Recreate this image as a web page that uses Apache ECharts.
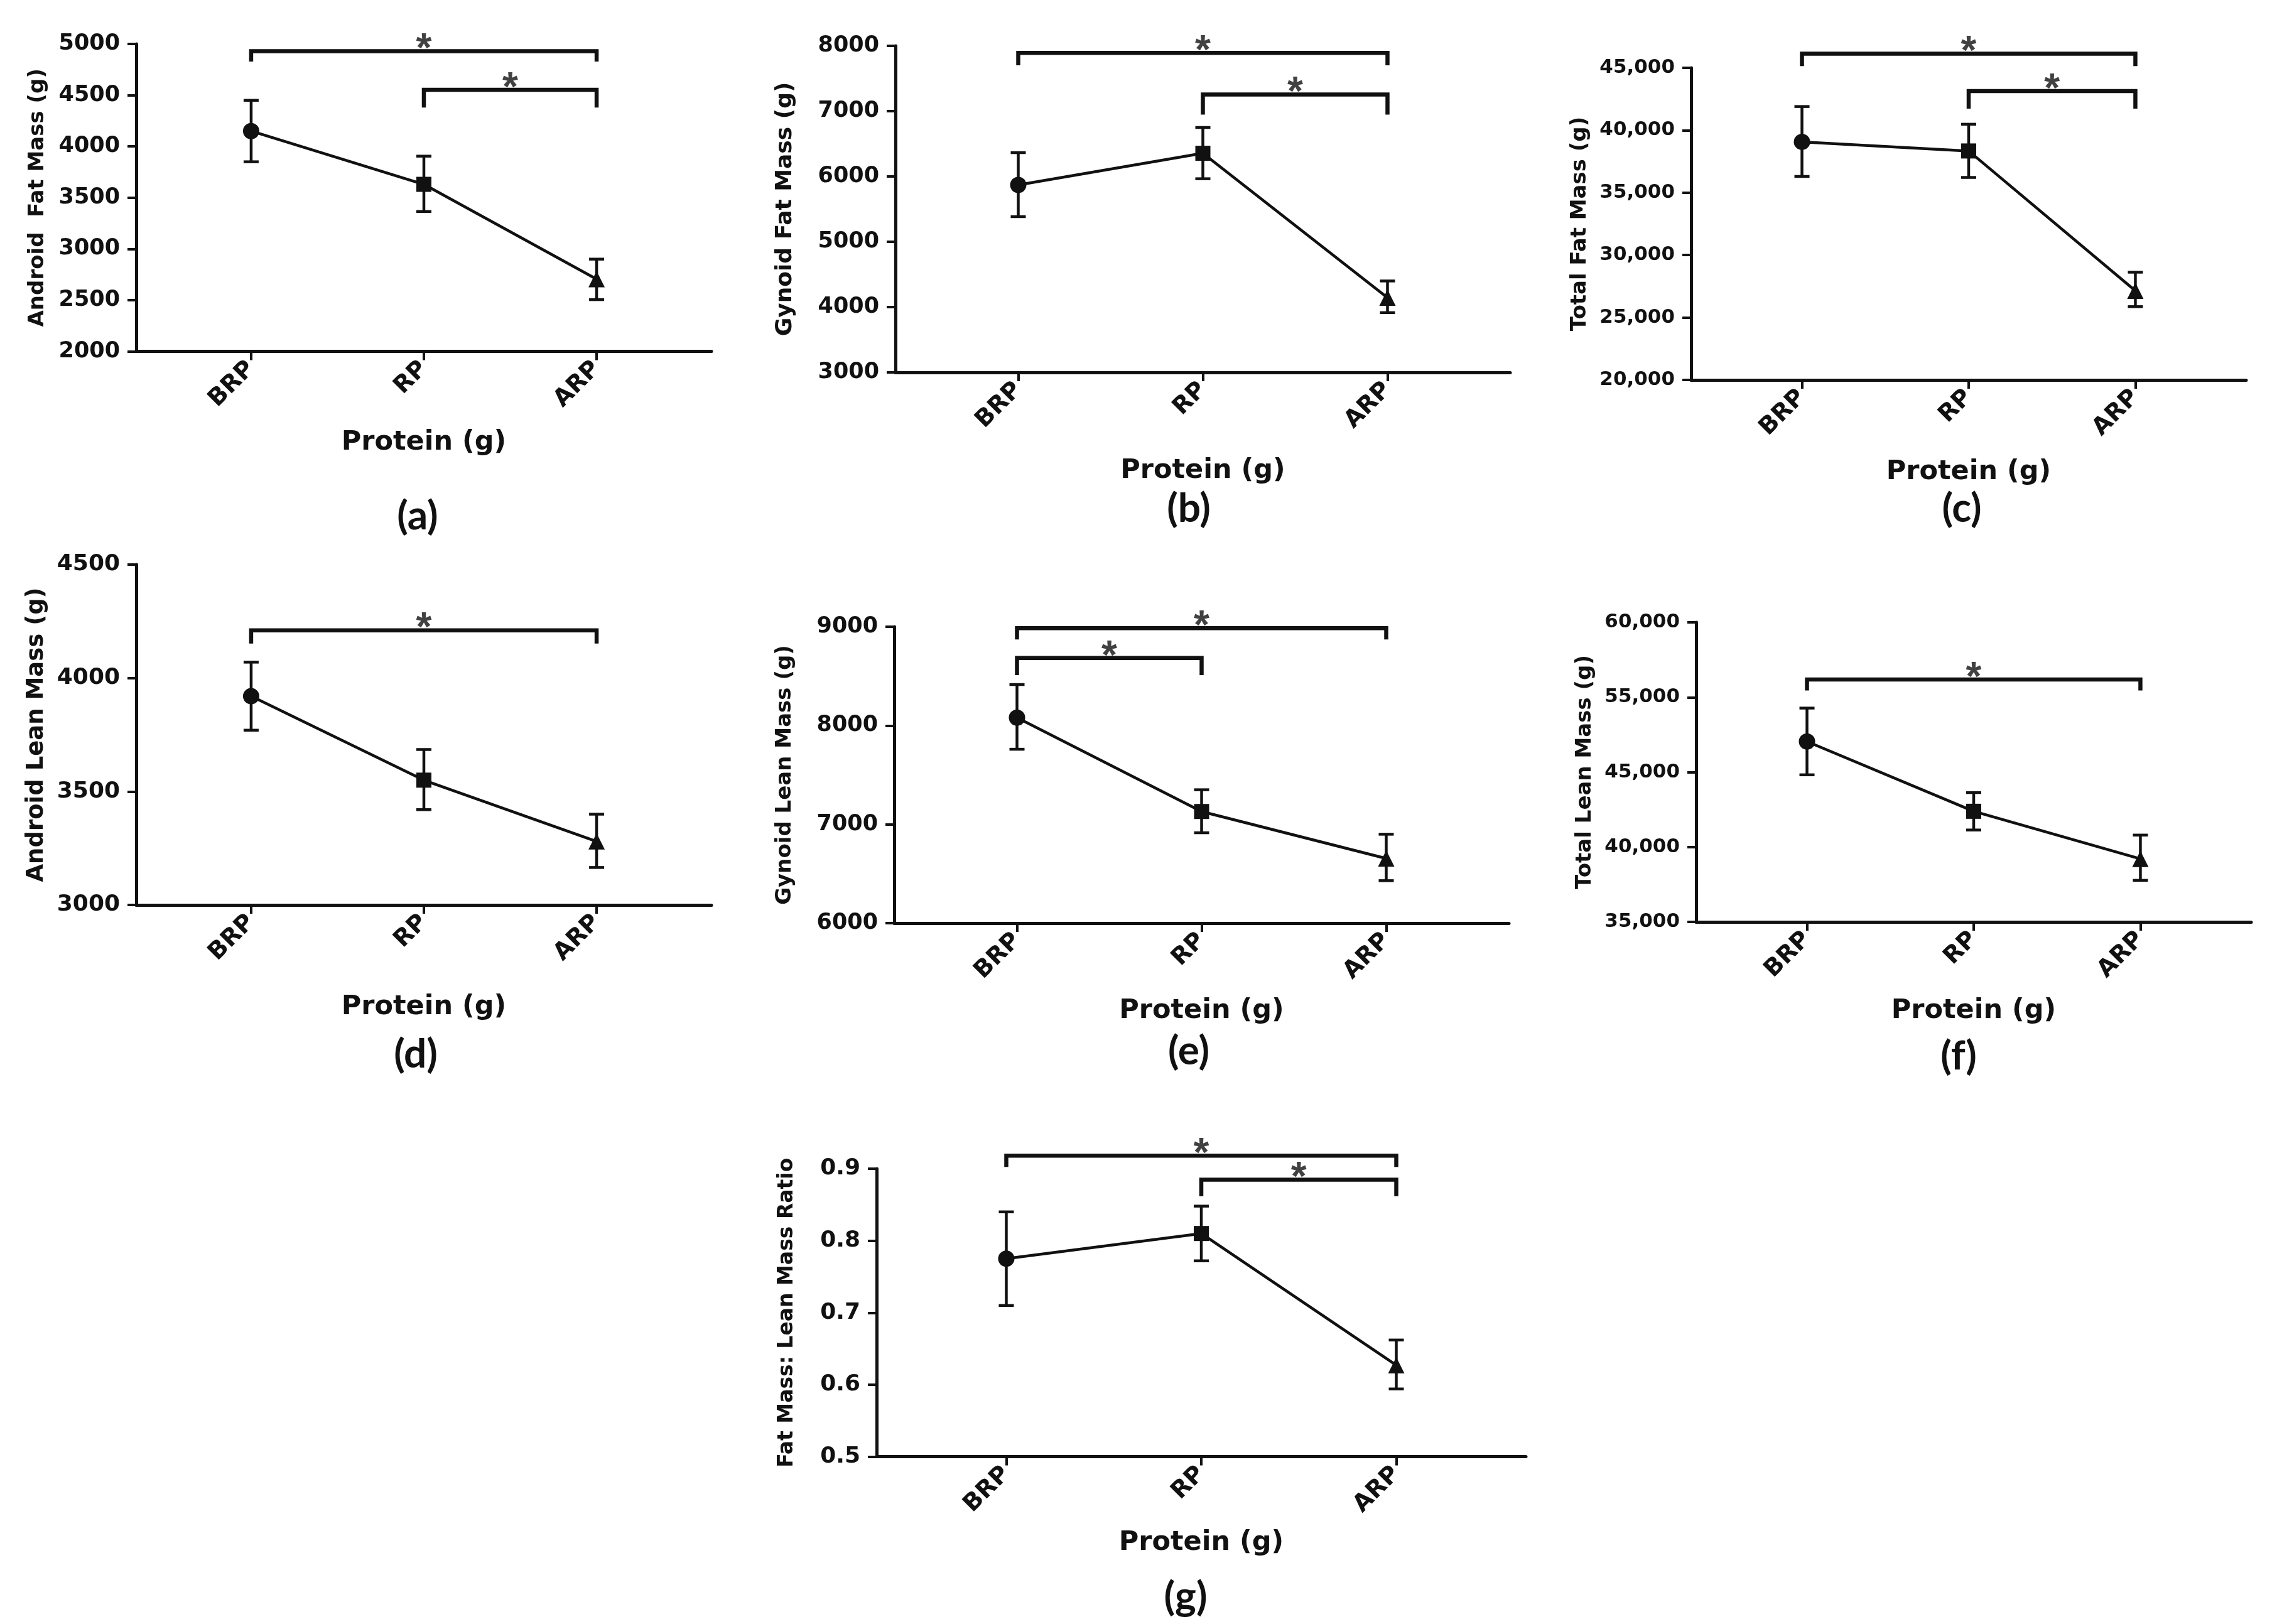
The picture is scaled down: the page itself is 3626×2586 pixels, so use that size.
<!DOCTYPE html>
<html>
<head>
<meta charset="utf-8">
<script src="https://cdn.jsdelivr.net/npm/echarts@6/dist/echarts.min.js"></script>
<style>html,body{margin:0;padding:0;background:#fff}#c{width:3626px;height:2586px}</style>
</head>
<body>
<div id="c"></div>
<script>
// ---------------- DATA ----------------
const categories = ['BRP', 'RP', 'ARP'];
const xAxisTitle = 'Protein (g)';

// (a) Android Fat Mass
const androidFatMean  = [4150, 3630, 2705];
const androidFatUpper = [4450, 3905, 2900];
const androidFatLower = [3850, 3365, 2505];
const androidFatRange = [2000, 5000, 500];
const androidFatBrackets = [[0, 2, 4930, 4828], [1, 2, 4553, 4380]]; // [from, to, level, end]

// (b) Gynoid Fat Mass
const gynoidFatMean  = [5870, 6355, 4145];
const gynoidFatUpper = [6365, 6750, 4400];
const gynoidFatLower = [5385, 5965, 3915];
const gynoidFatRange = [3000, 8000, 1000];
const gynoidFatBrackets = [[0, 2, 7892, 7703], [1, 2, 7256, 6948]];

// (c) Total Fat Mass
const totalFatMean  = [39070, 38340, 27140];
const totalFatUpper = [41900, 40480, 28630];
const totalFatLower = [36300, 36220, 25870];
const totalFatRange = [20000, 45000, 5000];
const totalFatBrackets = [[0, 2, 46130, 45140], [1, 2, 43140, 41730]];

// (d) Android Lean Mass
const androidLeanMean  = [3920, 3550, 3280];
const androidLeanUpper = [4070, 3685, 3400];
const androidLeanLower = [3770, 3420, 3165];
const androidLeanRange = [3000, 4500, 500];
const androidLeanBrackets = [[0, 2, 4210, 4152]];

// (e) Gynoid Lean Mass
const gynoidLeanMean  = [8080, 7130, 6655];
const gynoidLeanUpper = [8415, 7350, 6900];
const gynoidLeanLower = [7760, 6915, 6430];
const gynoidLeanRange = [6000, 9000, 1000];
const gynoidLeanBrackets = [[0, 2, 8986, 8872], [0, 1, 8683, 8510]];

// (f) Total Lean Mass (tick labels printed as in the figure)
const totalLeanMean  = [52045, 47385, 44205];
const totalLeanUpper = [54275, 48635, 45795];
const totalLeanLower = [49820, 46135, 42775];
const totalLeanRange = [40000, 60000, 5000];
const totalLeanTickLabels = ['35,000', '40,000', '45,000', '55,000', '60,000'];
const totalLeanBrackets = [[0, 2, 56180, 55455]];

// (g) Fat Mass : Lean Mass Ratio
const ratioMean  = [0.775, 0.810, 0.627];
const ratioUpper = [0.840, 0.848, 0.662];
const ratioLower = [0.710, 0.772, 0.594];
const ratioRange = [0.5, 0.9, 0.1];
const ratioBrackets = [[0, 2, 0.918, 0.9024], [1, 2, 0.8848, 0.8619]];

const yTitles = ['Android  Fat Mass (g)', 'Gynoid Fat Mass (g)', 'Total Fat Mass (g)',
                 'Android Lean Mass (g)', 'Gynoid Lean Mass (g)', 'Total Lean Mass (g)',
                 'Fat Mass: Lean Mass Ratio'];
const panelLetters = ['(a)', '(b)', '(c)', '(d)', '(e)', '(f)', '(g)'];

// ---------------- PANELS ----------------
const plain = v => String(v);
const comma = v => v.toLocaleString('en-US');
const panels = [
  {mean: androidFatMean, upper: androidFatUpper, lower: androidFatLower, range: androidFatRange, brackets: androidFatBrackets, fmt: plain},
  {mean: gynoidFatMean, upper: gynoidFatUpper, lower: gynoidFatLower, range: gynoidFatRange, brackets: gynoidFatBrackets, fmt: plain},
  {mean: totalFatMean, upper: totalFatUpper, lower: totalFatLower, range: totalFatRange, brackets: totalFatBrackets, fmt: comma},
  {mean: androidLeanMean, upper: androidLeanUpper, lower: androidLeanLower, range: androidLeanRange, brackets: androidLeanBrackets, fmt: plain},
  {mean: gynoidLeanMean, upper: gynoidLeanUpper, lower: gynoidLeanLower, range: gynoidLeanRange, brackets: gynoidLeanBrackets, fmt: plain},
  {mean: totalLeanMean, upper: totalLeanUpper, lower: totalLeanLower, range: totalLeanRange, brackets: totalLeanBrackets,
   fmt: v => totalLeanTickLabels[Math.round((v - totalLeanRange[0]) / totalLeanRange[2])] || ''},
  {mean: ratioMean, upper: ratioUpper, lower: ratioLower, range: ratioRange, brackets: ratioBrackets, fmt: v => v.toFixed(1)}
];

// ---------------- LAYOUT / STYLE ----------------
const layout = [
  {left: 217,  top: 70,   width: 916,  height: 489.5, yGap: 140, xGap: 124, tickFs: 35, nameFs: 34, letter: [665, 822]},
  {left: 1426, top: 73,   width: 979,  height: 520,   yGap: 157, xGap: 135, tickFs: 35, nameFs: 36, letter: [1893, 810]},
  {left: 2693, top: 108,  width: 884,  height: 497,   yGap: 160, xGap: 125, tickFs: 31, nameFs: 34, letter: [3124, 810]},
  {left: 217,  top: 899,  width: 916,  height: 542,   yGap: 140, xGap: 141, tickFs: 36, nameFs: 37, letter: [662, 1679]},
  {left: 1424, top: 998,  width: 979,  height: 472,   yGap: 157, xGap: 118, tickFs: 35, nameFs: 34, letter: [1893, 1674]},
  {left: 2701, top: 991,  width: 884,  height: 477,   yGap: 160, xGap: 120, tickFs: 31, nameFs: 34, letter: [3119, 1682]},
  {left: 1396, top: 1861, width: 1034, height: 458.5, yGap: 126, xGap: 116, tickFs: 36, nameFs: 33, letter: [1888, 2543]}
];
const FONT = 'DejaVu Sans';
const INK = '#111';
const markerShapes = ['circle', 'rect', 'triangle'];
const markerSizes = [26, 24, 26];

const grids = [], xAxes = [], yAxes = [], series = [], graphics = [];

panels.forEach((p, k) => {
  const L = layout[k];
  grids.push({left: L.left, top: L.top, width: L.width, height: L.height});
  xAxes.push({
    gridIndex: k, type: 'value', min: -0.665, max: 2.665,
    name: xAxisTitle, nameLocation: 'middle', nameGap: L.xGap,
    nameTextStyle: {fontFamily: FONT, fontWeight: 'bold', fontSize: 43, color: INK},
    axisLine: {show: true, onZero: false, lineStyle: {color: INK, width: 5}},
    axisTick: {show: true, customValues: [0, 1, 2], length: 14, lineStyle: {color: INK, width: 4}},
    axisLabel: {show: true, customValues: [0, 1, 2], rotate: 45, margin: 22,
      formatter: v => categories[Math.round(v)] || '',
      fontFamily: FONT, fontWeight: 'bold', fontSize: 38, color: INK},
    splitLine: {show: false}
  });
  yAxes.push({
    gridIndex: k, type: 'value', min: p.range[0], max: p.range[1], interval: p.range[2],
    name: yTitles[k], nameLocation: 'middle', nameRotate: 90, nameGap: L.yGap,
    nameTextStyle: {fontFamily: FONT, fontWeight: 'bold', fontSize: L.nameFs, color: INK},
    axisLine: {show: true, onZero: false, lineStyle: {color: INK, width: 5}},
    axisTick: {show: true, length: 14, lineStyle: {color: INK, width: 4}},
    axisLabel: {formatter: p.fmt, margin: 26, fontFamily: FONT, fontWeight: 'bold', fontSize: L.tickFs, color: INK},
    splitLine: {show: false}
  });

  // error bars
  series.push({
    type: 'custom', xAxisIndex: k, yAxisIndex: k, z: 2, clip: false,
    data: categories.map((c, i) => [i, p.lower[i], p.upper[i]]),
    encode: {x: 0, y: [1, 2]},
    renderItem: (params, api) => {
      const x = api.value(0);
      const lo = api.coord([x, api.value(1)]);
      const hi = api.coord([x, api.value(2)]);
      const cw = 12, st = {stroke: INK, lineWidth: 4.5};
      return {type: 'group', children: [
        {type: 'line', shape: {x1: lo[0], y1: lo[1], x2: hi[0], y2: hi[1]}, style: st},
        {type: 'line', shape: {x1: lo[0] - cw, y1: lo[1], x2: lo[0] + cw, y2: lo[1]}, style: st},
        {type: 'line', shape: {x1: hi[0] - cw, y1: hi[1], x2: hi[0] + cw, y2: hi[1]}, style: st}
      ]};
    }
  });

  // mean line with markers
  series.push({
    type: 'line', xAxisIndex: k, yAxisIndex: k, z: 3,
    data: p.mean.map((v, i) => ({value: [i, v], symbol: markerShapes[i], symbolSize: markerSizes[i]})),
    lineStyle: {color: INK, width: 4.5},
    itemStyle: {color: INK, borderWidth: 0},
    emphasis: {disabled: true}
  });

  // significance brackets
  p.brackets.forEach(b => {
    series.push({
      type: 'line', xAxisIndex: k, yAxisIndex: k, z: 4, clip: false,
      data: [[b[0], b[3]], [b[0], b[2]], [b[1], b[2]], [b[1], b[3]]],
      symbol: 'none', lineStyle: {color: INK, width: 6.5, join: 'miter', cap: 'butt'},
      emphasis: {disabled: true}
    });
  });
  series.push({
    type: 'scatter', xAxisIndex: k, yAxisIndex: k, z: 5, clip: false,
    data: p.brackets.map(b => [(b[0] + b[1]) / 2, b[2]]),
    symbol: 'circle', symbolSize: 1, itemStyle: {color: 'rgba(0,0,0,0)'},
    label: {show: true, position: 'inside', offset: [0, -1], formatter: '*',
      fontFamily: 'Liberation Sans', fontWeight: 'bold', fontSize: 64, color: INK},
    emphasis: {disabled: true}
  });

  graphics.push({
    type: 'text', x: L.letter[0], y: L.letter[1],
    style: {text: panelLetters[k], font: 'bold 64px Lato', fill: INK,
      align: 'center', verticalAlign: 'middle', textAlign: 'center', textVerticalAlign: 'middle'}
  });
});

const chart = echarts.init(document.getElementById('c'), null, {renderer: 'canvas', width: 3626, height: 2586});
chart.setOption({
  backgroundColor: '#ffffff',
  animation: false,
  grid: grids, xAxis: xAxes, yAxis: yAxes, series: series, graphic: graphics
});
</script>
</body>
</html>
